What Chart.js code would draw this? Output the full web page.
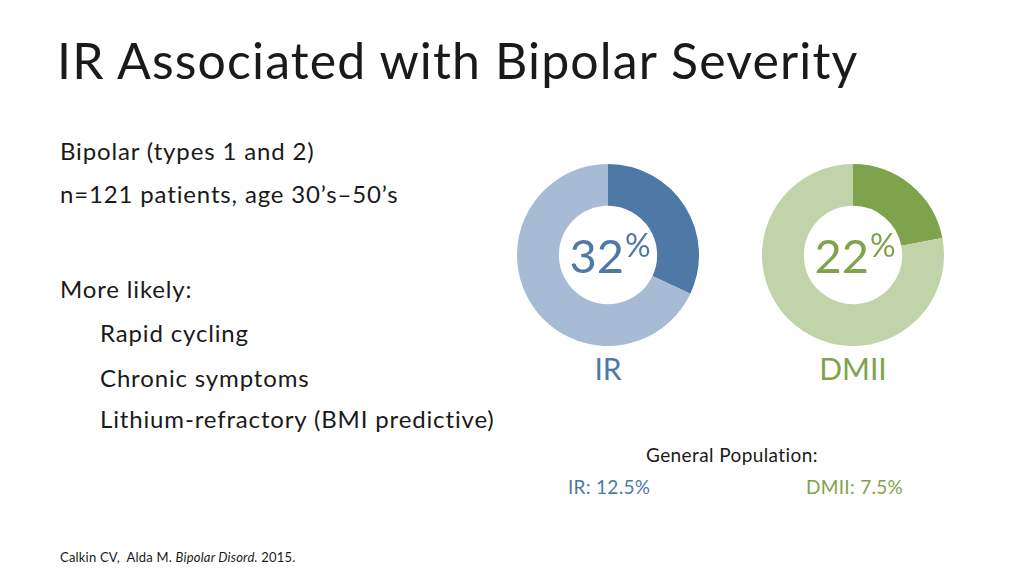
<!DOCTYPE html>
<html>
<head>
<meta charset="utf-8">
<script src="https://cdn.jsdelivr.net/npm/chart.js@4"></script>
<style>
  body { margin: 0; width: 1035px; height: 580px; background: #fff; font-family: Lato, "Open Sans", sans-serif; color: #1a1a1a; position: relative; overflow: hidden; }
  .abs { position: absolute; white-space: nowrap; line-height: 1.2; }
  h1 { position: absolute; left: 57px; top: 30px; margin: 0; font-weight: 400; font-size: 50px; letter-spacing: 1.15px; line-height: 1.2; white-space: nowrap; }
  .body { font-size: 24px; letter-spacing: 0.85px; }
  .donut { position: absolute; width: 182px; height: 182px; }
  .pct { position: absolute; font-size: 47px; text-align: center; width: 182px; line-height: 1.2; font-weight: 400; }
  .pct span { font-size: 32px; position: relative; top: -16px; margin-left: 1px; }
  .lbl { position: absolute; font-size: 30px; text-align: center; width: 182px; line-height: 1.2; }
  .gen { font-size: 19px; letter-spacing: 0.3px; }
</style>
</head>
<body>
<h1>IR Associated with Bipolar Severity</h1>

<div class="abs body" style="left:60px; top:137px;">Bipolar (types 1 and 2)</div>
<div class="abs body" style="left:60px; top:180px;">n=121 patients, age 30’s–50’s</div>
<div class="abs body" style="left:60px; top:275px;">More likely:</div>
<div class="abs body" style="left:100px; top:319px;">Rapid cycling</div>
<div class="abs body" style="left:100px; top:364px;">Chronic symptoms</div>
<div class="abs body" style="left:100px; top:405px;">Lithium-refractory (BMI predictive)</div>

<div class="donut" style="left:517px; top:164px;"><canvas id="irChart"></canvas></div>
<div class="donut" style="left:762px; top:164px;"><canvas id="dmChart"></canvas></div>

<div class="pct" id="irPct" style="left:519px; top:227px; color:#4e78a7;"></div>
<div class="pct" id="dmPct" style="left:764px; top:227px; color:#7fa34c;"></div>
<div class="lbl" id="irLbl" style="left:517px; top:350px; color:#4e78a7;"></div>
<div class="lbl" id="dmLbl" style="left:762px; top:350px; color:#7fa34c;"></div>

<div class="abs gen" style="left:646px; top:444px; letter-spacing:0.4px;">General Population:</div>
<div class="abs gen" id="irGen" style="left:568px; top:476px; color:#4e78a7;"></div>
<div class="abs gen" id="dmGen" style="left:806px; top:476px; color:#7fa34c;"></div>

<div class="abs" style="left:60px; top:550px; font-size:13px; letter-spacing:0.2px;">Calkin CV,&nbsp; Alda M. <i>Bipolar Disord.</i> 2015.</div>

<script>
const groups = ['IR', 'DMII'];
const patientPct = [32, 22];
const generalPct = [12.5, 7.5];
const darkColors = ['#4e79a7', '#7fa34c'];
const lightColors = ['#a7bbd5', '#c0d3a9'];

function makeDonut(canvasId, i) {
  const ctx = document.getElementById(canvasId).getContext('2d');
  return new Chart(ctx, {
    type: 'doughnut',
    data: {
      labels: [groups[i], 'Other'],
      datasets: [{
        data: [patientPct[i], 100 - patientPct[i]],
        backgroundColor: [darkColors[i], lightColors[i]],
        borderWidth: 0
      }]
    },
    options: {
      responsive: true,
      maintainAspectRatio: false,
      animation: false,
      cutout: '54%',
      layout: { padding: 0 },
      plugins: {
        legend: { display: false },
        tooltip: { enabled: false }
      }
    }
  });
}

makeDonut('irChart', 0);
makeDonut('dmChart', 1);

document.getElementById('irPct').innerHTML = patientPct[0] + '<span>%</span>';
document.getElementById('dmPct').innerHTML = patientPct[1] + '<span>%</span>';
document.getElementById('irLbl').textContent = groups[0];
document.getElementById('dmLbl').textContent = groups[1];
document.getElementById('irGen').textContent = groups[0] + ': ' + generalPct[0] + '%';
document.getElementById('dmGen').textContent = groups[1] + ': ' + generalPct[1] + '%';
</script>
</body>
</html>
